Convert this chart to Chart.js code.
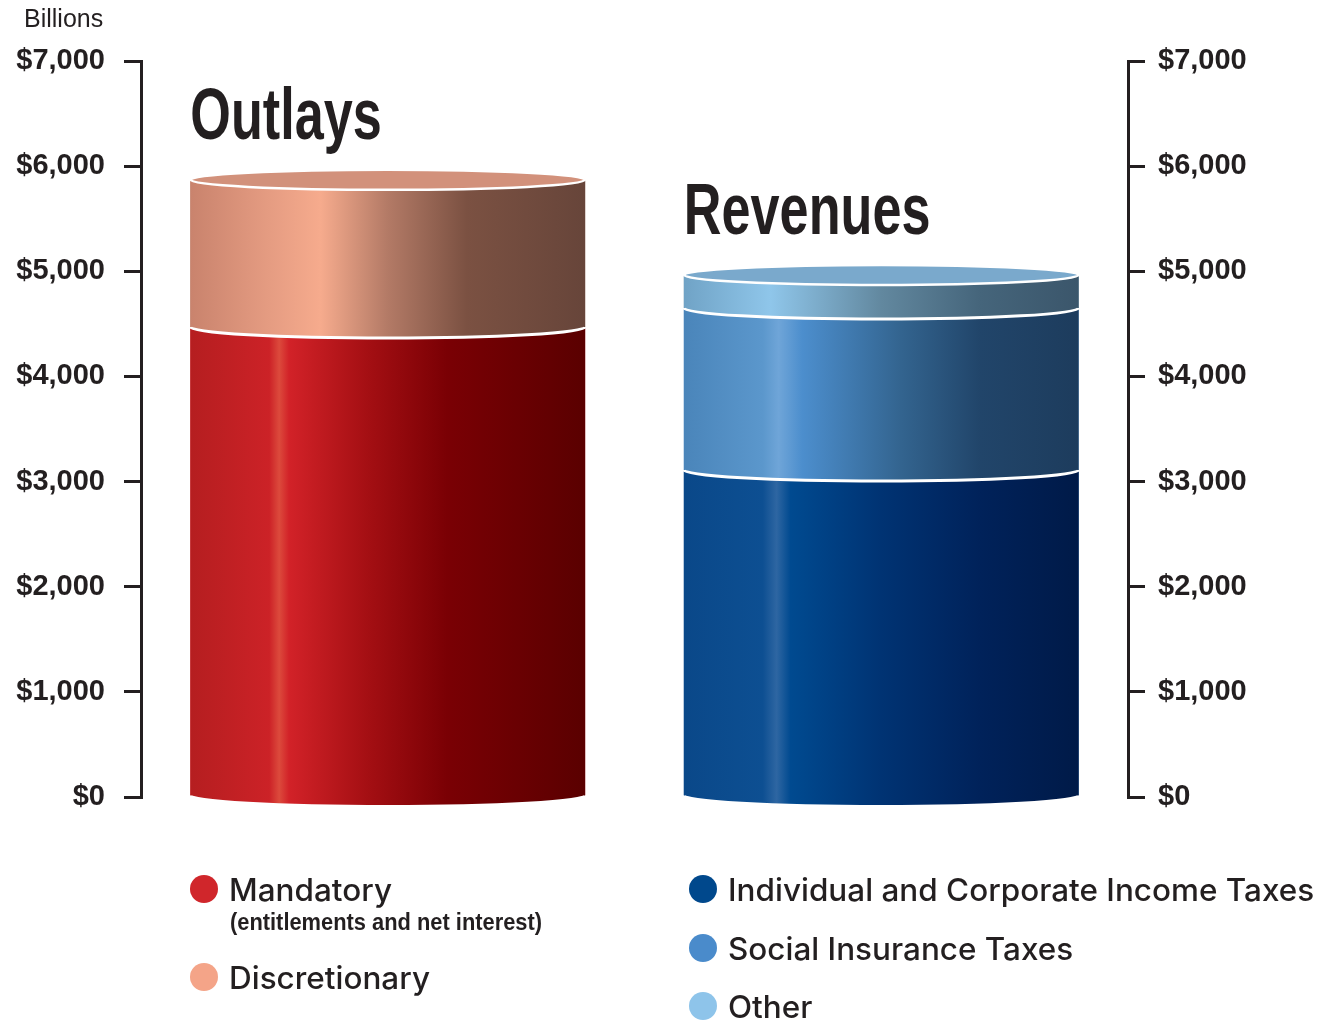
<!DOCTYPE html>
<html>
<head>
<meta charset="utf-8">
<script src="https://cdn.jsdelivr.net/npm/chart.js@4"></script>
<style>
  html, body { margin: 0; padding: 0; background: #fff; }
  #wrap { position: relative; width: 1332px; height: 1024px; }
</style>
</head>
<body>
<div id="wrap"><canvas id="budgetChart"></canvas></div>
<script>
// values in billions of dollars
const categories = ['Outlays', 'Revenues'];
const mandatory = [4470, null];
const discretionary = [1400, null];
const incomeTaxes = [null, 3110];
const socialInsurance = [null, 1540];
const otherRevenue = [null, 315];
const yTicks = [0, 1000, 2000, 3000, 4000, 5000, 6000, 7000];

const FONT = '"Liberation Sans", Arial, sans-serif';
const LEGEND_FONT = 'Inter, "Liberation Sans", Arial, sans-serif';
const INK = '#231f20';

const datasets = [
  { label: 'Mandatory', note: '(entitlements and net interest)', data: mandatory, stack: 's',
    dot: '#d0262b', cap: '#d2917b',
    stops: [[0, '#b51e20'], [0.2, '#cc2227'], [0.225, '#dc4a3c'], [0.25, '#d22228'], [0.45, '#a40f13'], [0.65, '#7a0004'], [1, '#5a0000']] },
  { label: 'Discretionary', data: discretionary, stack: 's',
    dot: '#f4a488', cap: '#d2917b',
    stops: [[0, '#c9836d'], [0.2, '#e59c82'], [0.33, '#f6ab8d'], [0.5, '#b37a66'], [0.7, '#7b5142'], [1, '#67453a']] },
  { label: 'Individual and Corporate Income Taxes', data: incomeTaxes, stack: 's',
    dot: '#00488c', cap: '#7aa9cc',
    stops: [[0, '#0a4889'], [0.2, '#0d4f92'], [0.235, '#2e66a2'], [0.27, '#004a90'], [0.5, '#003373'], [0.75, '#00225a'], [1, '#001a48']] },
  { label: 'Social Insurance Taxes', data: socialInsurance, stack: 's',
    dot: '#4a8bcb', cap: '#7aa9cc',
    stops: [[0, '#4a85ba'], [0.2, '#5b97cc'], [0.24, '#6fa5d8'], [0.3, '#4c8ecd'], [0.55, '#33648f'], [0.75, '#21456a'], [1, '#1d3c5d']] },
  { label: 'Other', data: otherRevenue, stack: 's',
    dot: '#8ec4ea', cap: '#7aa9cc',
    stops: [[0, '#70a3c6'], [0.22, '#8fc6ea'], [0.5, '#62889f'], [0.75, '#45657b'], [1, '#3b566b']] }
];

// draws each bar segment as a slice of a cylinder
const cylinders = {
  id: 'cylinders',
  afterDatasetsDraw(chart) {
    const ctx = chart.ctx;
    const zeroY = chart.scales.y.getPixelForValue(0);
    const tops = {};
    chart.data.datasets.forEach((ds, di) => {
      const meta = chart.getDatasetMeta(di);
      meta.data.forEach((el, i) => {
        if (ds.data[i] == null) return;
        const { x, y, base, width } = el.getProps(['x', 'y', 'base', 'width'], true);
        const left = x - width / 2, right = x + width / 2, rx = width / 2;
        const lowest = Math.abs(base - zeroY) < 1;
        const ry = lowest ? 8 : 11;
        const grad = ctx.createLinearGradient(left, 0, right, 0);
        ds.stops.forEach(s => grad.addColorStop(s[0], s[1]));
        ctx.save();
        ctx.beginPath();
        ctx.moveTo(left, y);
        ctx.lineTo(left, base);
        ctx.ellipse(x, base, rx, ry, 0, Math.PI, 0, true);
        ctx.lineTo(right, y);
        ctx.closePath();
        ctx.fillStyle = grad;
        ctx.fill();
        if (!lowest) {
          ctx.beginPath();
          ctx.ellipse(x, base, rx, ry, 0, Math.PI, 0, true);
          ctx.strokeStyle = '#fff';
          ctx.lineWidth = 3;
          ctx.stroke();
        }
        ctx.restore();
        tops[i] = { x, y, rx, left, cap: ds.cap };
      });
    });
    Object.keys(tops).forEach(i => {
      const t = tops[i];
      ctx.save();
      ctx.beginPath();
      ctx.ellipse(t.x, t.y, t.rx, 10, 0, 0, Math.PI * 2);
      ctx.fillStyle = t.cap;
      ctx.fill();
      ctx.strokeStyle = '#fff';
      ctx.lineWidth = 2.5;
      ctx.stroke();
      // big condensed title above the cylinder
      ctx.fillStyle = INK;
      ctx.font = 'bold 72px ' + FONT;
      ctx.textBaseline = 'alphabetic';
      ctx.translate(t.left, t.y - 41);
      ctx.scale(0.725, 1);
      ctx.fillText(categories[i], 0, 0);
      ctx.restore();
    });
  }
};

// "Billions" label and the two legend columns
const extras = {
  id: 'extras',
  afterDraw(chart) {
    const ctx = chart.ctx;
    ctx.save();
    ctx.fillStyle = INK;
    ctx.textBaseline = 'alphabetic';
    ctx.font = '25px ' + FONT;
    ctx.fillText('Billions', 24, 27);

    const columns = [
      { x: 204, rows: [[0, 889], [1, 977]] },
      { x: 703, rows: [[2, 889], [3, 948], [4, 1006]] }
    ];
    columns.forEach(col => {
      col.rows.forEach(([di, cy]) => {
        const ds = chart.data.datasets[di];
        ctx.beginPath();
        ctx.arc(col.x, cy, 14, 0, Math.PI * 2);
        ctx.fillStyle = ds.dot;
        ctx.fill();
        ctx.fillStyle = INK;
        ctx.font = '500 31px ' + LEGEND_FONT;
        ctx.save();
        ctx.translate(col.x + 25, cy + 12);
        ctx.scale(1.015, 1);
        ctx.fillText(ds.label, 0, 0);
        ctx.restore();
        if (ds.note) {
          ctx.save();
          ctx.font = 'bold 23px ' + FONT;
          ctx.translate(col.x + 26, cy + 41);
          ctx.scale(0.95, 1);
          ctx.fillText(ds.note, 0, 0);
          ctx.restore();
        }
      });
    });
    ctx.restore();
  }
};

function axis(position, padding, width) {
  return {
    position: position,
    min: 0,
    max: 7000,
    afterBuildTicks(scale) { scale.ticks = yTicks.map(v => ({ value: v })); },
    ticks: {
      color: INK,
      padding: padding,
      font: { family: FONT, size: 29, weight: 'bold' },
      callback: v => '$' + v.toLocaleString('en-US')
    },
    grid: { drawOnChartArea: false, drawTicks: true, tickLength: 17, lineWidth: 3, color: INK },
    border: { color: INK, width: 3 },
    afterFit(scale) { scale.width = width; }
  };
}

const leftAxis = axis('left', 19, 141);
leftAxis.stacked = true;

new Chart(document.getElementById('budgetChart'), {
  type: 'bar',
  data: {
    labels: categories,
    datasets: datasets.map(d => Object.assign({
      backgroundColor: d.stops[Math.floor(d.stops.length / 2)][1],
      borderWidth: 0,
      categoryPercentage: 1,
      barPercentage: 0.8
    }, d))
  },
  options: {
    responsive: true,
    maintainAspectRatio: false,
    animation: false,
    layout: { padding: { top: 61, bottom: 227, left: 0, right: 0 } },
    plugins: { legend: { display: false }, tooltip: { enabled: false } },
    scales: {
      x: { display: false, stacked: true },
      y: leftAxis,
      y2: axis('right', 13, 204)
    }
  },
  plugins: [cylinders, extras]
});
</script>
</body>
</html>
